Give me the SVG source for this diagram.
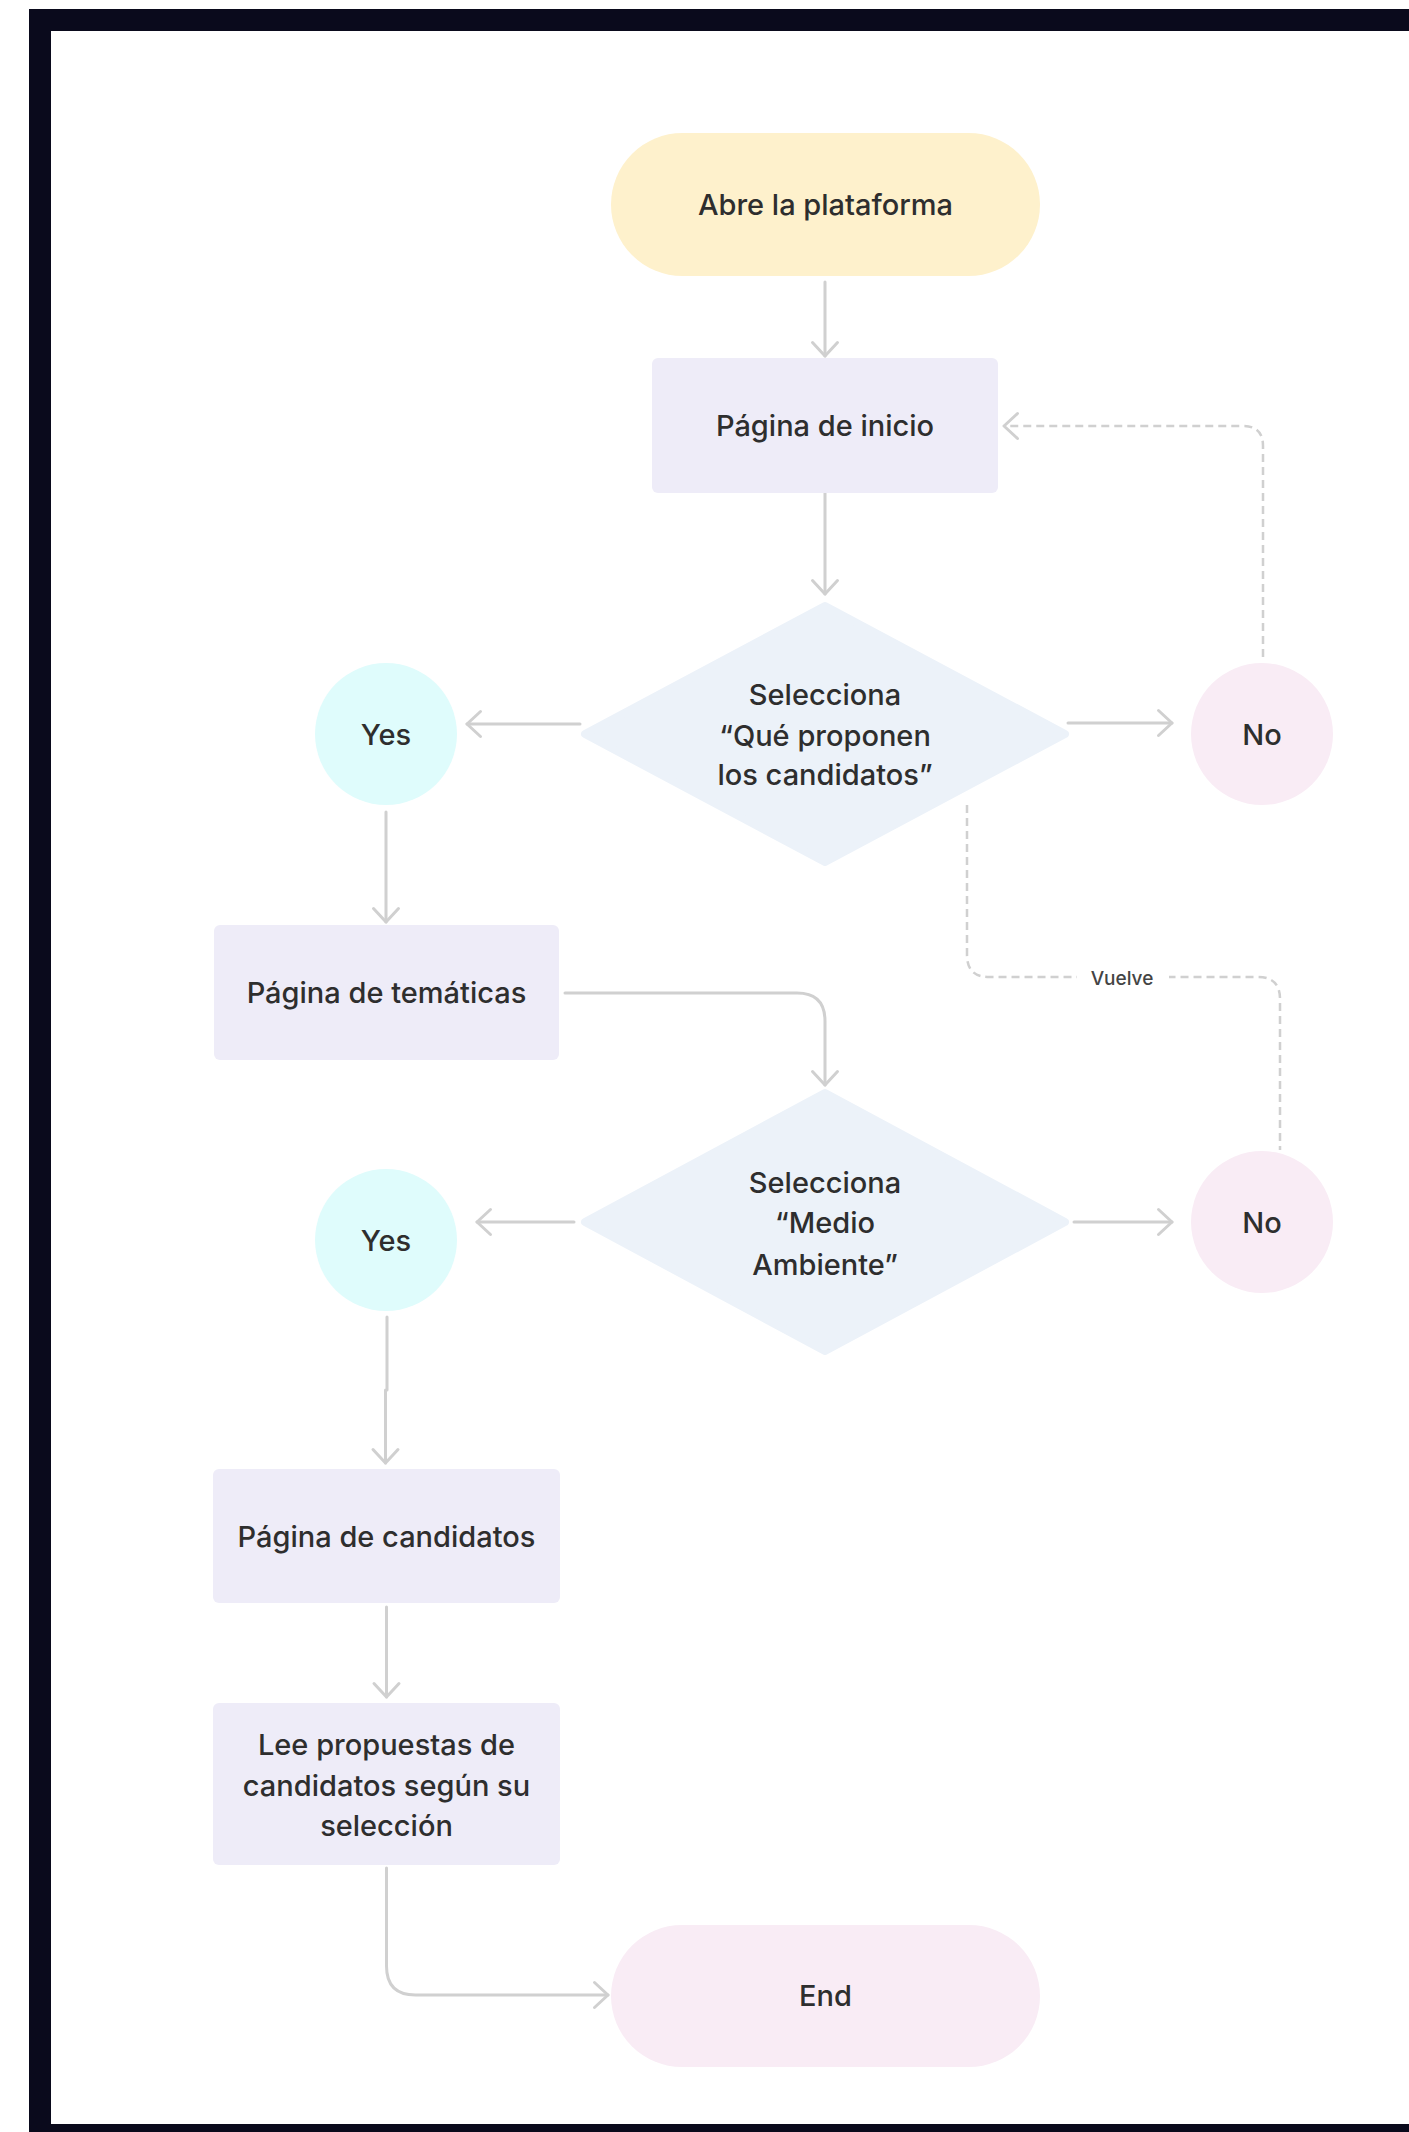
<svg xmlns="http://www.w3.org/2000/svg" width="1409" height="2132" viewBox="0 0 1409 2132">
<style>
.t{font-family:Inter,"Noto Sans","Liberation Sans",sans-serif;font-size:29px;font-weight:500;fill:#2E2E2E;text-anchor:middle}
.lbl{font-family:Inter,"Noto Sans","Liberation Sans",sans-serif;font-size:19px;font-weight:500;fill:#444444;text-anchor:middle}
.c{fill:none;stroke:#D0D0D0;stroke-width:3;stroke-linecap:round;stroke-linejoin:round}
.d{fill:none;stroke:#D0D0D0;stroke-width:2.5;stroke-dasharray:8 5}
.proc{fill:#EEECF8}
.dec{fill:#ECF2F9;stroke:#ECF2F9;stroke-width:8;stroke-linejoin:round}
.yes{fill:#DFFCFC}
.no{fill:#F9ECF5}
</style>
<defs>
<marker id="arr" markerUnits="userSpaceOnUse" viewBox="-16 -16 20 32" refX="0" refY="0" markerWidth="20" markerHeight="32" orient="auto" overflow="visible">
<path d="M-13.5,-12.5 L0,0 L-13.5,12.5" fill="none" stroke="#D0D0D0" stroke-width="3" stroke-linecap="round" stroke-linejoin="round"/>
</marker>
</defs>
<rect x="29" y="9" width="1380" height="2123" fill="#0A0A1C"/>
<rect x="51" y="31" width="1358" height="2093" fill="#FFFFFF"/>
<g id="connectors">
<path class="c" d="M825 282 V356" marker-end="url(#arr)"/>
<path class="c" d="M825 493 V594" marker-end="url(#arr)"/>
<path class="c" d="M580 724 H467" marker-end="url(#arr)"/>
<path class="c" d="M1068 723 H1172" marker-end="url(#arr)"/>
<path class="d" d="M1263 657 V446 Q1263 426 1243 426 H1004" marker-end="url(#arr)"/>
<path class="c" d="M386 812 V922" marker-end="url(#arr)"/>
<path class="c" d="M565 993 H797 Q825 993 825 1021 V1085" marker-end="url(#arr)"/>
<path class="d" d="M967 805 V955 Q967 977 989 977 H1258 Q1280 977 1280 999 V1150"/>
<rect x="1077" y="962" width="92" height="30" fill="#FFFFFF"/>
<text class="lbl" x="1122" y="985">Vuelve</text>
<path class="c" d="M574 1222 H477" marker-end="url(#arr)"/>
<path class="c" d="M1074 1222 H1172" marker-end="url(#arr)"/>
<path class="c" d="M387 1317 V1390 M385.5 1390 V1463" marker-end="url(#arr)"/>
<path class="c" d="M386.5 1607 V1697" marker-end="url(#arr)"/>
<path class="c" d="M386.5 1868 V1966 Q386.5 1995 415.5 1995 H608" marker-end="url(#arr)"/>
</g>
<g id="start">
<rect x="611" y="133" width="429" height="143" rx="71.5" fill="#FEF1CC"/>
<text class="t" x="825.5" y="215">Abre la plataforma</text>
</g>
<g id="inicio">
<rect class="proc" x="652" y="358" width="346" height="135" rx="6"/>
<text class="t" x="825" y="436">Página de inicio</text>
</g>
<g id="decision1">
<polygon class="dec" points="825,606 1065,734 825,862 585,734"/>
<text class="t" x="825" y="705">Selecciona</text>
<text class="t" x="825" y="746">“Qué proponen</text>
<text class="t" x="825" y="785">los candidatos”</text>
</g>
<g id="yes1">
<circle class="yes" cx="386" cy="734" r="71"/>
<text class="t" x="386" y="745">Yes</text>
</g>
<g id="no1">
<circle class="no" cx="1262" cy="734" r="71"/>
<text class="t" x="1262" y="745">No</text>
</g>
<g id="tematicas">
<rect class="proc" x="214" y="925" width="345" height="135" rx="6"/>
<text class="t" x="386.5" y="1003">Página de temáticas</text>
</g>
<g id="decision2">
<polygon class="dec" points="825,1093 1065,1222 825,1351 585,1222"/>
<text class="t" x="825" y="1193">Selecciona</text>
<text class="t" x="825" y="1233">“Medio</text>
<text class="t" x="825" y="1275">Ambiente”</text>
</g>
<g id="yes2">
<circle class="yes" cx="386" cy="1240" r="71"/>
<text class="t" x="386" y="1251">Yes</text>
</g>
<g id="no2">
<circle class="no" cx="1262" cy="1222" r="71"/>
<text class="t" x="1262" y="1233">No</text>
</g>
<g id="candidatos">
<rect class="proc" x="213" y="1469" width="347" height="134" rx="6"/>
<text class="t" x="386.5" y="1547">Página de candidatos</text>
</g>
<g id="lee">
<rect class="proc" x="213" y="1703" width="347" height="162" rx="6"/>
<text class="t" x="386.5" y="1755">Lee propuestas de</text>
<text class="t" x="386.5" y="1796">candidatos según su</text>
<text class="t" x="386.5" y="1836">selección</text>
</g>
<g id="end">
<rect x="611" y="1925" width="429" height="142" rx="71" fill="#F9ECF5"/>
<text class="t" x="825.5" y="2006">End</text>
</g>
</svg>
